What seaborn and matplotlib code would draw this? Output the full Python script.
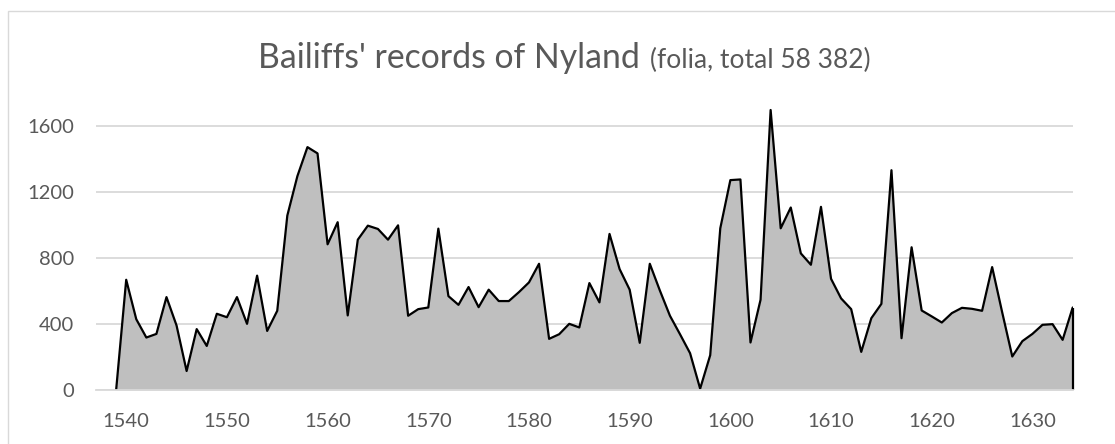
import matplotlib.pyplot as plt
import matplotlib.patches as patches
import pandas as pd
import seaborn as sns

# folia per year (1537-1634)
years = list(range(1537, 1635))
folia = [
    0, 0, 0,                                                  # 1537-1539
    668, 429, 318, 340, 563, 391, 115, 369, 267, 462,         # 1540s
    441, 563, 401, 693, 358, 480, 1057, 1296, 1472, 1434,     # 1550s
    883, 1017, 452, 911, 996, 976, 911, 998, 450, 490,        # 1560s
    500, 978, 569, 516, 624, 502, 608, 539, 539, 593,         # 1570s
    652, 765, 310, 338, 401, 379, 648, 531, 946, 733,         # 1580s
    608, 286, 765, 603, 450, 338, 223, 8, 211, 980,           # 1590s
    1272, 1276, 288, 547, 1697, 980, 1106, 828, 759, 1110,    # 1600s
    674, 555, 490, 231, 435, 522, 1332, 314, 865, 482,        # 1610s
    446, 409, 466, 498, 492, 480, 745, 470, 203, 296,         # 1620s
    340, 395, 399, 304, 500,                                  # 1630-1634
]
decades = list(range(1540, 1631, 10))
yticks = [0, 400, 800, 1200, 1600]

title_main = "Bailiffs' records of Nyland"
title_sub = "(folia, total 58 382)"

df = pd.DataFrame({"year": years, "folia": folia})

sns.set_style("white")
plt.rcParams["font.family"] = ["Lato", "DejaVu Sans"]
grey_text = "#595959"
grey_line = "#d9d9d9"

W, H = 1115, 444
fig = plt.figure(figsize=(W / 100, H / 100), dpi=100)
ax = fig.add_axes([96 / W, 54 / H, 976.7 / W, 297 / H])

ax.fill_between(df["year"], df["folia"], color="#bfbfbf", lw=0, zorder=2)
drawn = df[df["year"] >= 1539]
sns.lineplot(data=drawn, x="year", y="folia", color="black", lw=1.6, ax=ax, zorder=3)
ax.vlines(years[-1], 0, folia[-1], color="black", lw=1.6, zorder=3, clip_on=False)

ax.set_xlim(years[0], years[-1])
ax.set_ylim(0, 1800)
ax.set_xlabel("")
ax.set_ylabel("")

ax.set_yticks(yticks)
ax.set_xticks(decades)
ax.set_xticks(years, minor=True)
ax.yaxis.grid(True, color=grey_line, lw=1.3, zorder=1)
ax.set_axisbelow(True)

for side in ["top", "right", "left"]:
    ax.spines[side].set_visible(False)
ax.spines["bottom"].set_color(grey_line)
ax.spines["bottom"].set_linewidth(1.3)
ax.spines["bottom"].set_zorder(4)

ax.tick_params(axis="y", length=0, pad=16, labelsize=14.5, labelcolor=grey_text)
ax.tick_params(axis="x", which="both", length=3.6, width=1, color=grey_line,
               direction="out", pad=13, labelsize=14.5, labelcolor=grey_text)

# two-size title, like the original
t1 = fig.text(258 / W, 1 - 68 / H, title_main, ha="left", va="baseline",
              fontsize=24.3, color=grey_text)
fig.canvas.draw()
bb = t1.get_window_extent()
fig.text((bb.x1 + 10) / W, 1 - 68 / H, title_sub, ha="left", va="baseline",
         fontsize=19, color=grey_text)

# chart border
fig.add_artist(patches.Rectangle((7.5 / W, -0.1), 1.2, 1.1 - 11.5 / H,
                                 transform=fig.transFigure, fill=False,
                                 ec=grey_line, lw=1))

plt.savefig("out.png", dpi=100)
